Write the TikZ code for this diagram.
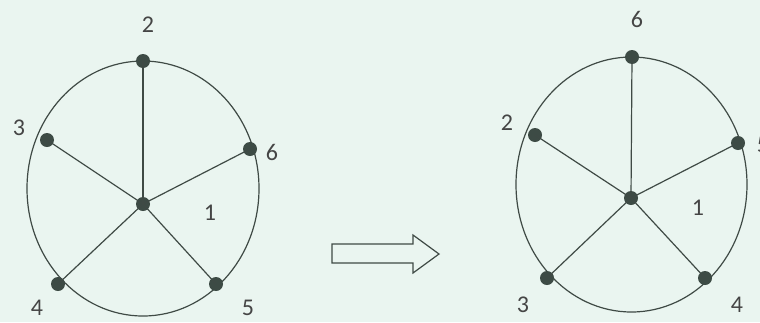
\documentclass[tikz,border=0pt]{standalone}
\usepackage{fontspec}
\setmainfont{Carlito}
\definecolor{bgmint}{HTML}{EAF5F0}
\definecolor{ink}{HTML}{3F4A45}
\definecolor{dotc}{HTML}{3D4B45}
\definecolor{labc}{HTML}{454545}
\begin{document}
\begin{tikzpicture}[x=1pt,y=-1pt,
  vtx/.style={circle,fill=dotc,inner sep=0pt,minimum size=14pt},
  lab/.style={text=labc,font=\fontsize{24}{24}\selectfont,inner sep=0pt},
  edge/.style={draw=ink,line width=1.2pt},
  rim/.style={draw=ink,line width=1.2pt}]
\fill[bgmint] (0,0) rectangle (760,322);
\useasboundingbox (0,0) rectangle (760,322);
% left graph
\draw[rim] (143,188.5) ellipse [x radius=116, y radius=127.5];
\node[vtx] (L1) at (143,204) {};
\node[vtx] (L2) at (143,61) {};
\node[vtx] (L3) at (47,140) {};
\node[vtx] (L6) at (250,149) {};
\node[vtx] (L4) at (58,284) {};
\node[vtx] (L5) at (216,284) {};
\foreach \n in {L2,L3,L6,L4,L5} \draw[edge] (L1.center) -- (\n.center);
\node[lab] (tL2) at (148,25) {2};
\node[lab] (tL3) at (19,128) {3};
\node[lab] (tL6) at (272,152) {6};
\node[lab] (tL1) at (210,213) {1};
\node[lab] (tL4) at (37,308) {4};
\node[lab] (tL5) at (248,308) {5};
% arrow
\draw[ink,line width=1.2pt,fill=bgmint] (332,244) -- (413,244) -- (413,235) -- (439,254) -- (413,273) -- (413,263) -- (332,263) -- cycle;
% right graph
\draw[rim] (631.5,184.5) ellipse [x radius=115.5, y radius=127.5];
\node[vtx] (R1) at (631,198) {};
\node[vtx] (R6) at (632,57) {};
\node[vtx] (R2) at (535,135) {};
\node[vtx] (R5) at (738,143) {};
\node[vtx] (R3) at (547,278) {};
\node[vtx] (R4) at (705,278) {};
\foreach \n in {R6,R2,R5,R3,R4} \draw[edge] (R1.center) -- (\n.center);
\node[lab] (tR6) at (637,19) {6};
\node[lab] (tR2) at (507,123) {2};
\node[lab] (tR5) at (763,145) {5};
\node[lab] (tR1) at (698,208) {1};
\node[lab] (tR3) at (523,305) {3};
\node[lab] (tR4) at (737,305) {4};
\end{tikzpicture}
\end{document}
